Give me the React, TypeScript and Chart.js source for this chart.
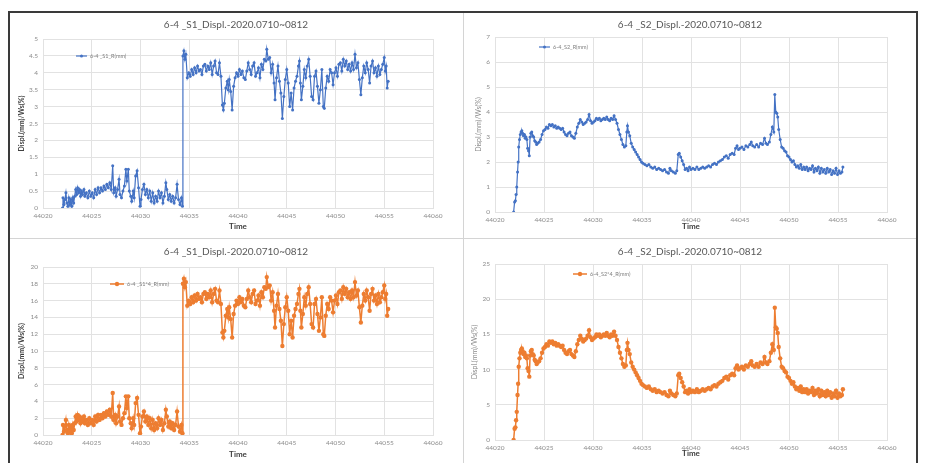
import React, { useEffect, useRef } from "react";
import { Chart, registerables } from "chart.js";

Chart.register(...registerables);

const FONT = 'Lato, "Open Sans", sans-serif';

// X axis (Excel serial dates)
const xMin = 44020;
const xMax = 44060;
const xStep = 5;

const titleS1 = "6-4 _S1_Displ.-2020.0710~0812";
const titleS2 = "6-4 _S2_Displ.-2020.0710~0812";
const legendS1 = "6-4 _S1_R(mm)";
const legendS2 = "6-4_S2_R(mm)";
const legendS1x4 = "6-4 _S1*4_R(mm)";
const legendS2x4 = "6-4_S2*4_R(mm)";
const yAxisTitle = "Displ.(mm)/Ws(%)";
const xAxisTitle = "Time";

const s1Times = [
  44022.00, 44022.05, 44022.15, 44022.25, 44022.35, 44022.45, 44022.55, 44022.65, 44022.75, 44022.85,
  44022.95, 44023.05, 44023.15, 44023.25, 44023.35, 44023.45, 44023.55, 44023.65, 44023.75, 44023.85,
  44023.95, 44024.05, 44024.20, 44024.30, 44024.45, 44024.60, 44024.75, 44024.90, 44025.05, 44025.20,
  44025.35, 44025.50, 44025.65, 44025.80, 44025.95, 44026.10, 44026.25, 44026.40, 44026.55, 44026.70,
  44026.85, 44027.00, 44027.15, 44027.25, 44027.40, 44027.50, 44027.65, 44027.80, 44027.90, 44028.05,
  44028.20, 44028.35, 44028.50, 44028.60, 44028.75, 44028.85, 44029.00, 44029.10, 44029.25, 44029.35,
  44029.50, 44029.65, 44029.80, 44029.95, 44030.05, 44030.20, 44030.35, 44030.50, 44030.65, 44030.80,
  44030.95, 44031.10, 44031.25, 44031.40, 44031.55, 44031.70, 44031.85, 44032.00, 44032.15, 44032.30,
  44032.45, 44032.60, 44032.70, 44032.85, 44033.00, 44033.15, 44033.30, 44033.45, 44033.60, 44033.75,
  44033.90, 44034.05, 44034.20, 44034.30, 44034.35, 44034.45, 44034.55, 44034.65, 44034.80, 44034.95,
  44035.10, 44035.25, 44035.40, 44035.55, 44035.70, 44035.85, 44036.00, 44036.15, 44036.30, 44036.45,
  44036.60, 44036.75, 44036.90, 44037.05, 44037.20, 44037.35, 44037.50, 44037.65, 44037.80, 44037.95,
  44038.10, 44038.25, 44038.40, 44038.50, 44038.60, 44038.75, 44038.90, 44039.00, 44039.10, 44039.25,
  44039.40, 44039.55, 44039.70, 44039.85, 44040.00, 44040.15, 44040.30, 44040.45, 44040.60, 44040.75,
  44040.90, 44041.05, 44041.20, 44041.35, 44041.50, 44041.65, 44041.80, 44041.95, 44042.10, 44042.25,
  44042.40, 44042.55, 44042.70, 44042.85, 44042.95, 44043.10, 44043.25, 44043.40, 44043.55, 44043.70,
  44043.80, 44043.95, 44044.10, 44044.25, 44044.40, 44044.55, 44044.70, 44044.85, 44045.00, 44045.15,
  44045.30, 44045.45, 44045.60, 44045.75, 44045.90, 44046.05, 44046.20, 44046.30, 44046.40, 44046.50,
  44046.65, 44046.80, 44046.95, 44047.10, 44047.25, 44047.40, 44047.55, 44047.70, 44047.85, 44048.00,
  44048.15, 44048.30, 44048.45, 44048.60, 44048.75, 44048.85, 44049.00, 44049.15, 44049.30, 44049.45,
  44049.60, 44049.75, 44049.90, 44050.05, 44050.20, 44050.35, 44050.50, 44050.65, 44050.80, 44050.95,
  44051.10, 44051.25, 44051.40, 44051.55, 44051.70, 44051.85, 44052.00, 44052.15, 44052.30, 44052.45,
  44052.60, 44052.75, 44052.90, 44053.05, 44053.20, 44053.35, 44053.50, 44053.65, 44053.80, 44053.95,
  44054.10, 44054.25, 44054.40, 44054.55, 44054.70, 44054.85, 44055.00, 44055.10, 44055.20, 44055.30,
  44055.40,
];

const s1Values = [
  0.00, 0.30, 0.10, 0.25, 0.45, 0.15, 0.05, 0.30, 0.10, 0.25,
  0.05, 0.30, 0.15, 0.35, 0.55, 0.40, 0.60, 0.45, 0.55, 0.35,
  0.50, 0.40, 0.55, 0.35, 0.45, 0.30, 0.50, 0.35, 0.45, 0.30,
  0.55, 0.40, 0.60, 0.45, 0.60, 0.50, 0.65, 0.55, 0.70, 0.60,
  0.75, 0.55, 1.25, 0.45, 0.60, 0.35, 0.55, 0.85, 0.40, 0.30,
  0.50, 0.65, 1.15, 0.80, 1.15, 0.50, 0.35, 0.20, 0.50, 0.30,
  0.95, 1.10, 0.60, 0.05, 0.25, 0.55, 0.70, 0.40, 0.55, 0.30,
  0.50, 0.20, 0.45, 0.15, 0.35, 0.20, 0.50, 0.30, 0.45, 0.15,
  0.35, 0.75, 0.55, 0.25, 0.40, 0.20, 0.35, 0.15, 0.30, 0.70,
  0.25, 0.10, 0.30, 0.05, 4.50, 4.65, 4.40, 4.55, 3.85, 4.00,
  3.90, 4.10, 3.95, 4.15, 4.00, 4.20, 4.05, 4.10, 3.95, 4.20,
  4.25, 4.05, 4.20, 4.10, 4.30, 3.95, 4.20, 4.35, 4.00, 3.95,
  4.30, 3.90, 3.05, 2.90, 3.10, 3.55, 3.75, 3.50, 3.80, 3.45,
  2.90, 3.60, 3.85, 4.00, 3.90, 4.10, 3.95, 4.05, 3.85, 3.80,
  4.05, 4.30, 4.10, 3.95, 4.20, 4.30, 3.90, 4.00, 4.15, 3.85,
  4.25, 4.10, 4.40, 4.35, 4.70, 4.40, 4.45, 4.00, 4.25, 3.70,
  3.20, 3.85, 4.20, 3.75, 3.40, 2.65, 3.30, 3.80, 4.10, 3.70,
  3.00, 3.40, 2.90, 3.55, 3.75, 3.90, 4.20, 4.35, 3.70, 3.20,
  3.60, 4.10, 3.85, 4.20, 4.40, 3.90, 3.30, 3.20, 3.90, 4.05,
  3.60, 3.10, 3.50, 4.10, 3.00, 2.95, 3.55, 3.90, 3.75, 4.10,
  4.00, 3.65, 4.00, 4.15, 3.90, 4.25, 4.30, 4.05, 4.40, 4.20,
  4.35, 4.10, 4.25, 4.05, 4.30, 4.10, 4.55, 4.15, 4.30, 3.80,
  3.35, 3.85, 4.20, 4.00, 4.30, 4.10, 3.70, 4.20, 4.35, 4.00,
  4.15, 3.90, 4.20, 3.95, 4.10, 4.25, 4.45, 4.05, 4.20, 3.55,
  3.75,
];

const s1x4Values = [
  0.0, 1.2, 0.4, 1.0, 1.8, 0.6, 0.2, 1.2, 0.4, 1.0,
  0.2, 1.2, 0.6, 1.4, 2.2, 1.6, 2.4, 1.8, 2.2, 1.4,
  2.0, 1.6, 2.2, 1.4, 1.8, 1.2, 2.0, 1.4, 1.8, 1.2,
  2.2, 1.6, 2.4, 1.8, 2.4, 2.0, 2.6, 2.2, 2.8, 2.4,
  3.0, 2.2, 5.0, 1.8, 2.4, 1.4, 2.2, 3.4, 1.6, 1.2,
  2.0, 2.6, 4.6, 3.2, 4.6, 2.0, 1.4, 0.8, 2.0, 1.2,
  3.8, 4.4, 2.4, 0.2, 1.0, 2.2, 2.8, 1.6, 2.2, 1.2,
  2.0, 0.8, 1.8, 0.6, 1.4, 0.8, 2.0, 1.2, 1.8, 0.6,
  1.4, 3.0, 2.2, 1.0, 1.6, 0.8, 1.4, 0.6, 1.2, 2.8,
  1.0, 0.4, 1.2, 0.2, 18.0, 18.6, 17.6, 18.2, 15.4, 16.0,
  15.6, 16.4, 15.8, 16.6, 16.0, 16.8, 16.2, 16.4, 15.8, 16.8,
  17.0, 16.2, 16.8, 16.4, 17.2, 15.8, 16.8, 17.4, 16.0, 15.8,
  17.2, 15.6, 12.2, 11.6, 12.4, 14.2, 15.0, 14.0, 15.2, 13.8,
  11.6, 14.4, 15.4, 16.0, 15.6, 16.4, 15.8, 16.2, 15.4, 15.2,
  16.2, 17.2, 16.4, 15.8, 16.8, 17.2, 15.6, 16.0, 16.6, 15.4,
  17.0, 16.4, 17.6, 17.4, 18.8, 17.6, 17.8, 16.0, 17.0, 14.8,
  12.8, 15.4, 16.8, 15.0, 13.6, 10.6, 13.2, 15.2, 16.4, 14.8,
  12.0, 13.6, 11.6, 14.2, 15.0, 15.6, 16.8, 17.4, 14.8, 12.8,
  14.4, 16.4, 15.4, 16.8, 17.6, 15.6, 13.2, 12.8, 15.6, 16.2,
  14.4, 12.4, 14.0, 16.4, 12.0, 11.8, 14.2, 15.6, 15.0, 16.4,
  16.0, 14.6, 16.0, 16.6, 15.6, 17.0, 17.2, 16.2, 17.6, 16.8,
  17.4, 16.4, 17.0, 16.2, 17.2, 16.4, 18.2, 16.6, 17.2, 15.2,
  13.4, 15.4, 16.8, 16.0, 17.2, 16.4, 14.8, 16.8, 17.4, 16.0,
  16.6, 15.6, 16.8, 15.8, 16.4, 17.0, 17.8, 16.2, 16.8, 14.2,
  15.0,
];

const s2Times = [
  44021.90, 44022.00, 44022.08, 44022.15, 44022.22, 44022.30, 44022.36, 44022.42, 44022.50, 44022.58,
  44022.66, 44022.74, 44022.82, 44022.90, 44023.00, 44023.08, 44023.16, 44023.25, 44023.33, 44023.42,
  44023.50, 44023.58, 44023.66, 44023.75, 44023.85, 44023.95, 44024.05, 44024.15, 44024.25, 44024.35,
  44024.50, 44024.65, 44024.80, 44024.95, 44025.10, 44025.25, 44025.40, 44025.55, 44025.70, 44025.85,
  44026.00, 44026.15, 44026.30, 44026.45, 44026.60, 44026.75, 44026.90, 44027.05, 44027.20, 44027.35,
  44027.50, 44027.65, 44027.80, 44027.95, 44028.10, 44028.25, 44028.40, 44028.55, 44028.70, 44028.85,
  44029.00, 44029.15, 44029.30, 44029.45, 44029.60, 44029.75, 44029.90, 44030.05, 44030.20, 44030.35,
  44030.50, 44030.65, 44030.80, 44030.95, 44031.10, 44031.25, 44031.40, 44031.55, 44031.70, 44031.85,
  44032.00, 44032.15, 44032.30, 44032.45, 44032.60, 44032.75, 44032.90, 44033.05, 44033.20, 44033.35,
  44033.45, 44033.52, 44033.62, 44033.75, 44033.90, 44034.05, 44034.20, 44034.35, 44034.50, 44034.65,
  44034.80, 44034.95, 44035.10, 44035.30, 44035.50, 44035.70, 44035.90, 44036.10, 44036.30, 44036.50,
  44036.70, 44036.90, 44037.10, 44037.30, 44037.50, 44037.70, 44037.85, 44038.00, 44038.20, 44038.40,
  44038.55, 44038.70, 44038.80, 44038.95, 44039.10, 44039.25, 44039.40, 44039.55, 44039.70, 44039.85,
  44040.00, 44040.20, 44040.40, 44040.60, 44040.80, 44041.00, 44041.20, 44041.40, 44041.60, 44041.80,
  44042.00, 44042.20, 44042.40, 44042.60, 44042.80, 44043.00, 44043.20, 44043.40, 44043.60, 44043.80,
  44044.00, 44044.20, 44044.40, 44044.55, 44044.70, 44044.85, 44045.00, 44045.20, 44045.40, 44045.60,
  44045.80, 44046.00, 44046.15, 44046.30, 44046.50, 44046.70, 44046.90, 44047.10, 44047.30, 44047.50,
  44047.65, 44047.80, 44048.00, 44048.15, 44048.30, 44048.45, 44048.55, 44048.65, 44048.75, 44048.85,
  44048.95, 44049.10, 44049.25, 44049.40, 44049.55, 44049.70, 44049.85, 44050.00, 44050.15, 44050.30,
  44050.45, 44050.60, 44050.75, 44050.90, 44051.05, 44051.20, 44051.35, 44051.50, 44051.65, 44051.80,
  44051.95, 44052.10, 44052.25, 44052.40, 44052.55, 44052.70, 44052.85, 44053.00, 44053.15, 44053.30,
  44053.45, 44053.60, 44053.75, 44053.90, 44054.05, 44054.20, 44054.35, 44054.50, 44054.65, 44054.80,
  44054.95, 44055.10, 44055.25, 44055.40, 44055.50,
];

const s2Values = [
  0.00, 0.40, 0.45, 0.70, 1.00, 1.60, 2.00, 2.60, 2.90, 3.10,
  3.20, 3.25, 3.15, 3.05, 3.10, 2.95, 3.00, 2.90, 2.55, 2.45,
  2.25, 3.00, 3.15, 3.20, 3.05, 3.00, 2.85, 2.80, 2.70, 2.75,
  2.80, 2.90, 3.10, 3.25, 3.30, 3.40, 3.35, 3.50, 3.45, 3.50,
  3.40, 3.45, 3.35, 3.40, 3.35, 3.30, 3.35, 3.20, 3.10, 3.05,
  3.15, 3.20, 3.05, 3.00, 2.95, 3.15, 3.40, 3.55, 3.70, 3.60,
  3.50, 3.55, 3.60, 3.70, 3.90, 3.65, 3.55, 3.60, 3.65, 3.75,
  3.70, 3.75, 3.65, 3.70, 3.75, 3.70, 3.80, 3.70, 3.65, 3.75,
  3.70, 3.85, 3.70, 3.55, 3.30, 3.10, 2.90, 2.70, 2.60, 2.65,
  3.20, 3.45, 3.20, 3.05, 2.75, 2.60, 2.50, 2.40, 2.30, 2.20,
  2.10, 2.00, 1.95, 1.90, 1.85, 1.90, 1.80, 1.75, 1.80, 1.70,
  1.75, 1.70, 1.65, 1.70, 1.60, 1.55, 1.75, 1.65, 1.60, 1.55,
  1.65, 2.30, 2.35, 2.20, 2.05, 1.90, 1.70, 1.75, 1.65, 1.80,
  1.70, 1.75, 1.70, 1.80, 1.70, 1.75, 1.80, 1.75, 1.80, 1.85,
  1.80, 1.90, 1.95, 1.90, 2.00, 2.05, 2.10, 2.20, 2.25, 2.15,
  2.30, 2.35, 2.30, 2.55, 2.65, 2.50, 2.55, 2.60, 2.50, 2.65,
  2.60, 2.70, 2.80, 2.65, 2.60, 2.70, 2.60, 2.75, 2.70, 2.95,
  2.75, 2.70, 2.80, 3.10, 3.40, 3.20, 4.70, 4.00, 3.95, 3.80,
  3.30, 2.90, 2.60, 2.55, 2.45, 2.40, 2.25, 2.20, 2.10, 2.00,
  2.05, 1.90, 1.80, 1.85, 1.75, 1.90, 1.70, 1.80, 1.70, 1.80,
  1.65, 1.75, 1.70, 1.85, 1.60, 1.75, 1.65, 1.80, 1.55, 1.75,
  1.60, 1.70, 1.55, 1.75, 1.60, 1.70, 1.50, 1.65, 1.55, 1.75,
  1.50, 1.65, 1.55, 1.60, 1.80,
];

const s2x4Values = [
  0.0, 1.6, 1.8, 2.8, 4.0, 6.4, 8.0, 10.4, 11.6, 12.4,
  12.8, 13.0, 12.6, 12.2, 12.4, 11.8, 12.0, 11.6, 10.2, 9.8,
  9.0, 12.0, 12.6, 12.8, 12.2, 12.0, 11.4, 11.2, 10.8, 11.0,
  11.2, 11.6, 12.4, 13.0, 13.2, 13.6, 13.4, 14.0, 13.8, 14.0,
  13.6, 13.8, 13.4, 13.6, 13.4, 13.2, 13.4, 12.8, 12.4, 12.2,
  12.6, 12.8, 12.2, 12.0, 11.8, 12.6, 13.6, 14.2, 14.8, 14.4,
  14.0, 14.2, 14.4, 14.8, 15.6, 14.6, 14.2, 14.4, 14.6, 15.0,
  14.8, 15.0, 14.6, 14.8, 15.0, 14.8, 15.2, 14.8, 14.6, 15.0,
  14.8, 15.4, 14.8, 14.2, 13.2, 12.4, 11.6, 10.8, 10.4, 10.6,
  12.8, 13.8, 12.8, 12.2, 11.0, 10.4, 10.0, 9.6, 9.2, 8.8,
  8.4, 8.0, 7.8, 7.6, 7.4, 7.6, 7.2, 7.0, 7.2, 6.8,
  7.0, 6.8, 6.6, 6.8, 6.4, 6.2, 7.0, 6.6, 6.4, 6.2,
  6.6, 9.2, 9.4, 8.8, 8.2, 7.6, 6.8, 7.0, 6.6, 7.2,
  6.8, 7.0, 6.8, 7.2, 6.8, 7.0, 7.2, 7.0, 7.2, 7.4,
  7.2, 7.6, 7.8, 7.6, 8.0, 8.2, 8.4, 8.8, 9.0, 8.6,
  9.2, 9.4, 9.2, 10.2, 10.6, 10.0, 10.2, 10.4, 10.0, 10.6,
  10.4, 10.8, 11.2, 10.6, 10.4, 10.8, 10.4, 11.0, 10.8, 11.8,
  11.0, 10.8, 11.2, 12.4, 13.6, 12.8, 18.8, 16.0, 15.8, 15.2,
  13.2, 11.6, 10.4, 10.2, 9.8, 9.6, 9.0, 8.8, 8.4, 8.0,
  8.2, 7.6, 7.2, 7.4, 7.0, 7.6, 6.8, 7.2, 6.8, 7.2,
  6.6, 7.0, 6.8, 7.4, 6.4, 7.0, 6.6, 7.2, 6.2, 7.0,
  6.4, 6.8, 6.2, 7.0, 6.4, 6.8, 6.0, 6.6, 6.2, 7.0,
  6.0, 6.6, 6.2, 6.4, 7.2,
];

const BLUE = "#4472C4";
const ORANGE = "#ED7D31";
const GRID = "#e2e2e2";

type PanelCfg = {
  times: number[];
  values: number[];
  yMax: number;
  yStep: number;
  color: string;
  pointRadius: number;
  lineWidth: number;
  title: string;
  legend: string;
  left: number;
  top: number;
  w: number;
  h: number;
  plotL: number;
  padT: number;
  padR: number;
  xH: number;
  titleY: number;
  timePad: number;
  yBold: boolean;
  yTitlePad: number;
  lx0: number;
  lx1: number;
  ly: number;
};

const overlayPlugin = {
  id: "overlay",
  afterDraw(chart: any, _args: any, opts: any) {
    const ctx = chart.ctx as CanvasRenderingContext2D;
    ctx.save();
    ctx.font = `10px ${FONT}`;
    ctx.fillStyle = "#595959";
    ctx.textAlign = "center";
    ctx.textBaseline = "middle";
    ctx.fillText(opts.title, chart.width / 2, opts.titleY);
    // legend
    ctx.strokeStyle = opts.color;
    ctx.lineWidth = opts.lineWidth;
    ctx.beginPath();
    ctx.moveTo(opts.lx0, opts.ly);
    ctx.lineTo(opts.lx1, opts.ly);
    ctx.stroke();
    ctx.fillStyle = opts.color;
    ctx.beginPath();
    ctx.arc((opts.lx0 + opts.lx1) / 2, opts.ly, opts.pointRadius, 0, Math.PI * 2);
    ctx.fill();
    ctx.font = `5.5px ${FONT}`;
    ctx.fillStyle = "#7f7f7f";
    ctx.textAlign = "left";
    ctx.fillText(opts.legend, opts.lx1 + 3, opts.ly);
    ctx.restore();
  },
};

function Panel({ cfg }: { cfg: PanelCfg }) {
  const ref = useRef<HTMLCanvasElement | null>(null);
  useEffect(() => {
    if (!ref.current) return;
    const points = cfg.times.map((t, i) => ({ x: t, y: cfg.values[i] }));
    const chart = new Chart(ref.current, {
      type: "line",
      data: {
        datasets: [
          {
            label: cfg.legend,
            data: points,
            borderColor: cfg.color,
            backgroundColor: cfg.color,
            borderWidth: cfg.lineWidth,
            pointRadius: cfg.pointRadius,
            pointBorderWidth: 0,
            pointBackgroundColor: cfg.color,
            tension: 0,
          },
        ],
      },
      options: {
        responsive: false,
        animation: false,
        events: [],
        layout: { padding: { top: cfg.padT, right: cfg.padR, left: 0, bottom: 0 } },
        plugins: {
          legend: { display: false },
          title: { display: false },
          tooltip: { enabled: false },
          overlay: {
            title: cfg.title,
            titleY: cfg.titleY,
            legend: cfg.legend,
            color: cfg.color,
            lineWidth: cfg.lineWidth,
            pointRadius: cfg.pointRadius,
            lx0: cfg.lx0,
            lx1: cfg.lx1,
            ly: cfg.ly,
          },
        } as any,
        scales: {
          x: {
            type: "linear",
            min: xMin,
            max: xMax,
            ticks: {
              stepSize: xStep,
              autoSkip: false,
              maxRotation: 0,
              padding: 4,
              color: "#8c8c8c",
              font: { family: FONT, size: 6.5 },
              callback: (v: any) => String(v),
            },
            grid: { color: GRID, drawTicks: false },
            border: { color: GRID },
            title: {
              display: true,
              text: xAxisTitle,
              color: "#404040",
              font: { family: FONT, size: 8, weight: "bold" },
              padding: { top: 0, bottom: cfg.timePad },
            },
            afterFit: (s: any) => {
              s.height = cfg.xH;
            },
          },
          y: {
            type: "linear",
            min: 0,
            max: cfg.yMax,
            ticks: {
              stepSize: cfg.yStep,
              padding: 5,
              color: "#8c8c8c",
              font: { family: FONT, size: 6.5 },
              callback: (v: any) => String(Math.round(Number(v) * 100) / 100),
            },
            grid: { color: GRID, drawTicks: false },
            border: { color: GRID },
            title: {
              display: true,
              text: yAxisTitle,
              color: cfg.yBold ? "#404040" : "#8c8c8c",
              font: { family: FONT, size: 7, weight: cfg.yBold ? "bold" : "normal" },
              padding: { top: cfg.yTitlePad, bottom: 0 },
            },
            afterFit: (s: any) => {
              s.width = cfg.plotL;
            },
          },
        },
      } as any,
      plugins: [overlayPlugin as any],
    });
    return () => chart.destroy();
  }, [cfg]);
  return (
    <canvas
      ref={ref}
      width={cfg.w}
      height={cfg.h}
      style={{ position: "absolute", left: cfg.left, top: cfg.top, width: cfg.w, height: cfg.h }}
    />
  );
}

const panels: PanelCfg[] = [
  {
    times: s1Times, values: s1Values, yMax: 5, yStep: 0.5, color: BLUE, pointRadius: 1.5, lineWidth: 1.2,
    title: titleS1, legend: legendS1, left: 0, top: 0, w: 452, h: 224,
    plotL: 33, padT: 26, padR: 29, xH: 29, titleY: 12, timePad: 6.2, yBold: true, yTitlePad: 7.8,
    lx0: 66, lx1: 77, ly: 43,
  },
  {
    times: s2Times, values: s2Values, yMax: 7, yStep: 1, color: BLUE, pointRadius: 1.5, lineWidth: 1.2,
    title: titleS2, legend: legendS2, left: 454, top: 0, w: 452, h: 224,
    plotL: 31, padT: 24, padR: 29, xH: 25, titleY: 12, timePad: 6.2, yBold: false, yTitlePad: 10.8,
    lx0: 75, lx1: 86, ly: 34,
  },
  {
    times: s1Times, values: s1x4Values, yMax: 20, yStep: 2, color: ORANGE, pointRadius: 2.2, lineWidth: 1.5,
    title: titleS1, legend: legendS1x4, left: 0, top: 226, w: 452, h: 225,
    plotL: 33, padT: 28, padR: 29, xH: 29, titleY: 13, timePad: 5.2, yBold: true, yTitlePad: 7.8,
    lx0: 100, lx1: 114, ly: 45,
  },
  {
    times: s2Times, values: s2x4Values, yMax: 25, yStep: 5, color: ORANGE, pointRadius: 2.2, lineWidth: 1.5,
    title: titleS2, legend: legendS2x4, left: 454, top: 226, w: 452, h: 225,
    plotL: 31, padT: 25, padR: 29, xH: 24, titleY: 13, timePad: 6.2, yBold: false, yTitlePad: 6.8,
    lx0: 109, lx1: 123, ly: 35,
  },
];

export default function App() {
  return (
    <div
      style={{
        position: "relative",
        top: 3,
        width: 910,
        height: 455,
        border: "2px solid #3a3a3a",
        boxSizing: "border-box",
        background: "#ffffff",
      }}
    >
      <div style={{ position: "absolute", left: 453, top: 0, width: 1, height: 451, background: "#d4d4d4" }} />
      <div style={{ position: "absolute", left: 0, top: 225, width: 906, height: 1, background: "#d4d4d4" }} />
      {panels.map((p, i) => (
        <Panel key={i} cfg={p} />
      ))}
    </div>
  );
}
